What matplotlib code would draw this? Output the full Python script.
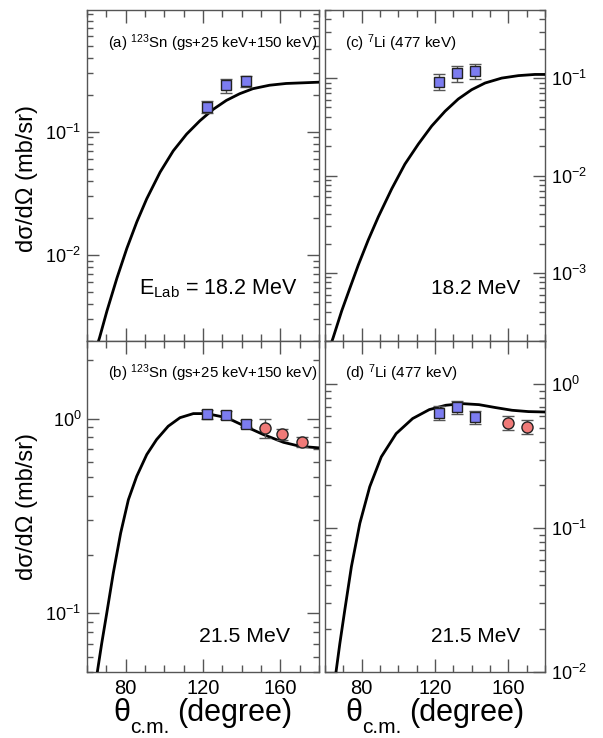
import matplotlib
matplotlib.use("Agg")
import matplotlib.pyplot as plt
from matplotlib.ticker import MultipleLocator, LogLocator, NullFormatter

plt.rcParams['font.family'] = ['Liberation Sans', 'DejaVu Sans']
plt.rcParams['mathtext.fontset'] = 'custom'
plt.rcParams['mathtext.rm'] = 'Liberation Sans'
plt.rcParams['mathtext.it'] = 'Liberation Sans:italic'
plt.rcParams['mathtext.bf'] = 'Liberation Sans:bold'

# ---------------- data ----------------
# (a) 123Sn, 18.2 MeV
a_curve_deg = [64.0, 66.5, 70.3, 75.5, 80.6, 85.8, 90.9, 97.8, 104.6, 111.5, 118.4,
               125.2, 132.1, 139.0, 145.8, 154.4, 163.0, 171.6, 180.0]
a_curve_val = [0.0016, 0.00213, 0.0035, 0.0065, 0.0113, 0.0186, 0.0286, 0.047, 0.070,
               0.0957, 0.123, 0.152, 0.180, 0.204, 0.224, 0.239, 0.247, 0.250, 0.253]
a_sq_deg = [122, 132, 142]
a_sq_val = [0.160, 0.238, 0.257]
a_sq_err = [0.017, 0.030, 0.026]

# (c) 7Li, 18.2 MeV
c_curve_deg = [63.0, 64.5, 69.1, 73.6, 78.2, 83.6, 89.1, 96.4, 103.6, 110.9, 118.2,
               125.5, 132.7, 140.0, 147.3, 156.4, 165.5, 174.5, 180.0]
c_curve_val = [1.8e-4, 2.18e-4, 4.07e-4, 7.0e-4, 1.21e-3, 2.18e-3, 3.77e-3, 7.3e-3,
               0.0131, 0.0210, 0.0322, 0.0457, 0.061, 0.076, 0.089, 0.100, 0.106,
               0.109, 0.109]
c_sq_deg = [122, 132, 142]
c_sq_val = [0.092, 0.112, 0.119]
c_sq_err = [0.017, 0.021, 0.021]

# (b) 123Sn, 21.5 MeV
b_curve_deg = [64.0, 65.3, 67.6, 70.2, 73.6, 77.4, 81.4, 85.7, 90.9, 96.0, 102.0,
               108.1, 115.0, 121.9, 132.3, 141.7, 151.2, 161.6, 170.2, 180.0]
b_curve_val = [0.040, 0.0497, 0.070, 0.100, 0.161, 0.258, 0.383, 0.505, 0.653, 0.780,
               0.913, 1.01, 1.06, 1.06, 1.01, 0.913, 0.828, 0.755, 0.720, 0.707]
b_sq_deg = [122, 132, 142]
b_sq_val = [1.05, 1.04, 0.94]
b_sq_err = [0.05, 0.05, 0.04]
b_ci_deg = [152, 161, 171]
b_ci_val = [0.895, 0.83, 0.76]
b_ci_err = [0.105, 0.055, 0.048]

# (d) 7Li, 21.5 MeV
d_curve_deg = [65.0, 66.0, 68.1, 70.8, 74.4, 79.0, 84.4, 90.7, 98.8, 107.8, 116.9,
               125.9, 134.9, 144.0, 153.0, 162.0, 171.0, 180.0]
d_curve_val = [0.0085, 0.010, 0.0158, 0.027, 0.054, 0.108, 0.194, 0.313, 0.454, 0.578,
               0.667, 0.715, 0.734, 0.722, 0.689, 0.660, 0.646, 0.642]
d_sq_deg = [122, 132, 142]
d_sq_val = [0.636, 0.695, 0.593]
d_sq_err = [0.075, 0.073, 0.062]
d_ci_deg = [160, 170]
d_ci_val = [0.542, 0.505]
d_ci_err = [0.060, 0.056]

x_ticks = [80, 120, 160]
ylabel_text = 'dσ/dΩ (mb/sr)'

# ---------------- figure ----------------
W, H = 603, 738
fig = plt.figure(figsize=(W / 100, H / 100), dpi=100)


def rect(x0, y0, x1, y1):
    return [x0 / W, 1 - y1 / H, (x1 - x0) / W, (y1 - y0) / H]


ax_a = fig.add_axes(rect(87, 10, 319, 341))
ax_c = fig.add_axes(rect(325, 10, 545, 341))
ax_b = fig.add_axes(rect(87, 341, 319, 672))
ax_d = fig.add_axes(rect(325, 341, 545, 672))

SQ_FC = '#7c7cf0'
CI_FC = '#f07a78'
EDGE = '#222222'
ECOL = '#555555'


def style(ax, right, bottom_labels):
    ax.set_yscale('log')
    ax.set_xlim(60, 180)
    ax.xaxis.set_major_locator(MultipleLocator(40))
    ax.xaxis.set_minor_locator(MultipleLocator(10))
    ax.yaxis.set_major_locator(LogLocator(base=10))
    ax.yaxis.set_minor_locator(LogLocator(base=10, subs=range(2, 10)))
    ax.yaxis.set_minor_formatter(NullFormatter())
    for s in ax.spines.values():
        s.set_color('#555555')
        s.set_linewidth(1.0)
    ax.tick_params(which='both', direction='in', top=True, bottom=True,
                   left=True, right=True, color='#555555', width=1.0)
    ax.tick_params(axis='x', which='major', length=9.5, labelsize=14.5, pad=5)
    ax.tick_params(axis='x', which='minor', length=5)
    ax.tick_params(axis='y', which='major', length=8.5, labelsize=13, pad=4)
    ax.tick_params(axis='y', which='minor', length=4.5)
    ax.tick_params(axis='x', labelbottom=bottom_labels)
    if right:
        ax.tick_params(axis='y', which='both', labelleft=False, labelright=True)
    else:
        ax.tick_params(axis='y', which='both', labelleft=True, labelright=False)


def draw(ax, cdeg, cval, sdeg, sval, serr, cideg=None, cival=None, cierr=None):
    ax.plot(cdeg, cval, color='black', lw=2.0, zorder=3, solid_joinstyle='round')
    ax.errorbar(sdeg, sval, yerr=serr, fmt='s', ms=7.2, mfc=SQ_FC, mec=EDGE, mew=1.0,
                ecolor=ECOL, elinewidth=1.0, capsize=4.3, capthick=1.0, zorder=4)
    if cideg is not None:
        ax.errorbar(cideg, cival, yerr=cierr, fmt='o', ms=8.0, mfc=CI_FC, mec=EDGE,
                    mew=1.0, ecolor=ECOL, elinewidth=1.0, capsize=4.3, capthick=1.0,
                    zorder=4)


draw(ax_a, a_curve_deg, a_curve_val, a_sq_deg, a_sq_val, a_sq_err)
draw(ax_c, c_curve_deg, c_curve_val, c_sq_deg, c_sq_val, c_sq_err)
draw(ax_b, b_curve_deg, b_curve_val, b_sq_deg, b_sq_val, b_sq_err,
     b_ci_deg, b_ci_val, b_ci_err)
draw(ax_d, d_curve_deg, d_curve_val, d_sq_deg, d_sq_val, d_sq_err,
     d_ci_deg, d_ci_val, d_ci_err)

style(ax_a, False, False)
style(ax_c, True, False)
style(ax_b, False, True)
style(ax_d, True, True)

ax_a.set_ylim(0.002, 0.976)
ax_c.set_ylim(2e-4, 0.5)
ax_b.set_ylim(0.05, 2.5)
ax_d.set_ylim(0.01, 2.0)

for ax in (ax_a, ax_c, ax_b, ax_d):
    ax.set_xticks(x_ticks)

# panel annotations
ax_a.text(0.09, 0.884, r'(a) $^{123}$Sn (gs+25 keV+150 keV)', transform=ax_a.transAxes,
          fontsize=10.8, ha='left', va='baseline')
ax_b.text(0.09, 0.887, r'(b) $^{123}$Sn (gs+25 keV+150 keV)', transform=ax_b.transAxes,
          fontsize=10.8, ha='left', va='baseline')
ax_c.text(0.091, 0.884, r'(c) $^{7}$Li (477 keV)', transform=ax_c.transAxes,
          fontsize=11, ha='left', va='baseline')
ax_d.text(0.091, 0.887, r'(d) $^{7}$Li (477 keV)', transform=ax_d.transAxes,
          fontsize=11, ha='left', va='baseline')

ax_a.text(0.909, 0.142, r'E$_{\mathrm{Lab}}$ = 18.2 MeV', transform=ax_a.transAxes,
          fontsize=15.5, ha='right', va='baseline')
ax_c.text(0.886, 0.141, '18.2 MeV', transform=ax_c.transAxes,
          fontsize=15, ha='right', va='baseline')
ax_b.text(0.875, 0.092, '21.5 MeV', transform=ax_b.transAxes,
          fontsize=15.3, ha='right', va='baseline')
ax_d.text(0.886, 0.092, '21.5 MeV', transform=ax_d.transAxes,
          fontsize=15, ha='right', va='baseline')

# axis labels
fig.text(27 / W, 1 - 178 / H, ylabel_text, rotation=90, fontsize=17,
         ha='center', va='center')
fig.text(27 / W, 1 - 507 / H, ylabel_text, rotation=90, fontsize=17,
         ha='center', va='center')


def xlabel(x0):
    # θ, subscript c.m., then (degree)
    fig.text(x0 / W, 1 - 721 / H, 'θ', fontsize=22, ha='left', va='baseline')
    fig.text((x0 + 17) / W, 1 - 733 / H, 'c.m.', fontsize=15, ha='left', va='baseline')
    fig.text((x0 + 64) / W, 1 - 721 / H, '(degree)', fontsize=22, ha='left',
             va='baseline')


xlabel(113)
xlabel(345)

fig.savefig('out.png', dpi=100)
